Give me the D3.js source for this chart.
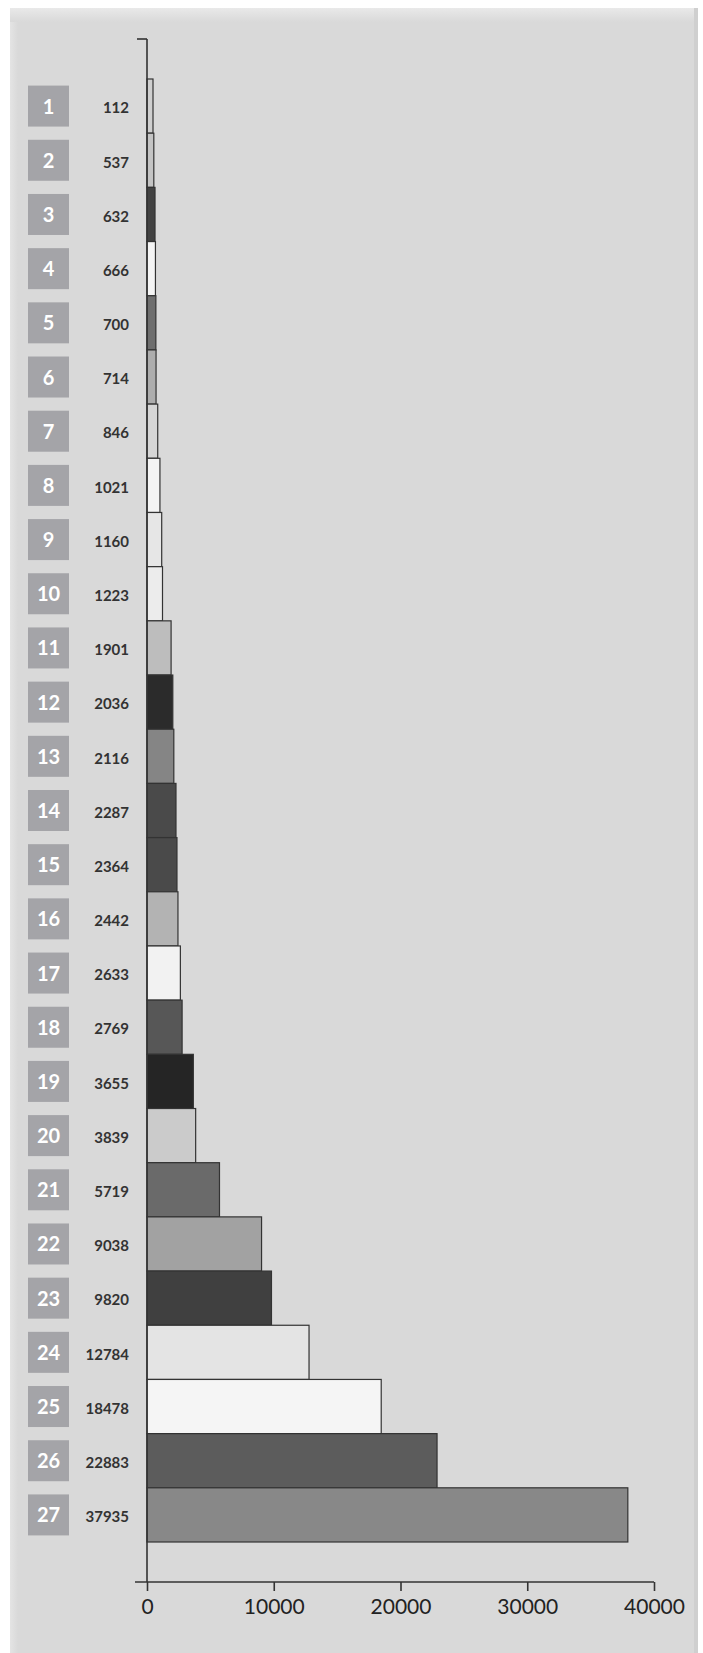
<!DOCTYPE html>
<html>
<head>
<meta charset="utf-8">
<script src="https://cdn.jsdelivr.net/npm/d3@7"></script>
<style>
  body { margin: 0; background: #fff; }
  svg { display: block; }
  .axis path, .axis line { stroke: #333; stroke-width: 1.6px; }
  .axis text { font-family: Lato, sans-serif; font-size: 21px; fill: #222; }
</style>
</head>
<body>
<svg width="703" height="1653"></svg>
<script>
'use strict';

// ranks shown in the grey boxes
var ranks = d3.range(1, 28).map(String);

// value of each bar (also printed next to it)
var values = [112, 537, 632, 666, 700, 714, 846, 1021, 1160, 1223, 1901, 2036, 2116, 2287,
  2364, 2442, 2633, 2769, 3655, 3839, 5719, 9038, 9820, 12784, 18478, 22883, 37935];

// fill of each bar
var fills = ['#cfcfcf', '#c4c4c4', '#424242', '#f4f4f4', '#6e6e6e', '#adadad', '#d6d6d6',
  '#f4f4f4', '#e6e6e6', '#ececec', '#bdbdbd', '#2b2b2b', '#858585', '#4a4a4a', '#4a4a4a',
  '#b3b3b3', '#f2f2f2', '#575757', '#252525', '#cbcbcb', '#6a6a6a', '#a2a2a2', '#404040',
  '#e4e4e4', '#f5f5f5', '#5c5c5c', '#888888'];

var xTicks = [0, 10000, 20000, 30000, 40000];

var svg = d3.select('svg');

// panel background with a soft lighter rim
var defs = svg.append('defs');
var gTop = defs.append('linearGradient').attr('id', 'rimTop').attr('x1', 0).attr('y1', 0).attr('x2', 0).attr('y2', 1);
gTop.append('stop').attr('offset', 0).attr('stop-color', '#e9e9e9');
gTop.append('stop').attr('offset', 1).attr('stop-color', '#d9d9d9');
var gLeft = defs.append('linearGradient').attr('id', 'rimLeft').attr('x1', 0).attr('y1', 0).attr('x2', 1).attr('y2', 0);
gLeft.append('stop').attr('offset', 0).attr('stop-color', '#e4e4e4');
gLeft.append('stop').attr('offset', 1).attr('stop-color', '#d9d9d9');

svg.append('rect').attr('x', 10).attr('y', 8).attr('width', 688).attr('height', 1645).attr('fill', '#d9d9d9');
svg.append('rect').attr('x', 10).attr('y', 8).attr('width', 8).attr('height', 1645).attr('fill', 'url(#rimLeft)');
svg.append('rect').attr('x', 10).attr('y', 8).attr('width', 688).attr('height', 14).attr('fill', 'url(#rimTop)');
svg.append('rect').attr('x', 694).attr('y', 8).attr('width', 4).attr('height', 1645).attr('fill', '#cfcfcf');

// scales
var x = d3.scaleLinear().domain([0, 40000]).range([147, 654]);
var y = d3.scaleBand().domain(ranks).range([79, 1542]).padding(0);
var axisY = 1582;

// bars (tiny values keep a sliver so they stay visible, as in the original)
svg.selectAll('.bar')
  .data(values)
  .enter()
  .append('rect')
  .attr('class', 'bar')
  .attr('x', x(0))
  .attr('y', function(d, i) { return y(ranks[i]); })
  .attr('width', function(d) { return Math.max(x(d) - x(0), 6); })
  .attr('height', y.bandwidth())
  .attr('fill', function(d, i) { return fills[i]; })
  .attr('stroke', '#333')
  .attr('stroke-width', 1.2);

// rank boxes
var boxes = svg.selectAll('.rank')
  .data(ranks)
  .enter()
  .append('g')
  .attr('class', 'rank')
  .attr('transform', function(d) { return 'translate(28,' + (y(d) + y.bandwidth() / 2 - 20.5) + ')'; });

boxes.append('rect')
  .attr('width', 41)
  .attr('height', 41)
  .attr('fill', '#a4a4a8');

boxes.append('text')
  .attr('x', 20.5)
  .attr('y', 21)
  .attr('dy', '0.35em')
  .attr('text-anchor', 'middle')
  .style('font-family', 'Lato, sans-serif')
  .style('font-weight', 'bold')
  .style('font-size', '20px')
  .style('fill', '#fff')
  .text(function(d) { return d; });

// value labels
svg.selectAll('.val')
  .data(values)
  .enter()
  .append('text')
  .attr('class', 'val')
  .attr('x', 129)
  .attr('y', function(d, i) { return y(ranks[i]) + y.bandwidth() / 2 + 2; })
  .attr('dy', '0.35em')
  .attr('text-anchor', 'end')
  .style('font-family', 'Lato, sans-serif')
  .style('font-weight', 'bold')
  .style('font-size', '15px')
  .style('fill', '#333')
  .text(function(d) { return d; });

// y axis line with its top tick
svg.append('line')
  .attr('x1', x(0)).attr('x2', x(0))
  .attr('y1', y.range()[0] - 40).attr('y2', axisY)
  .attr('stroke', '#333').attr('stroke-width', 1.6);
svg.append('line')
  .attr('x1', x(0) - 10).attr('x2', x(0))
  .attr('y1', y.range()[0] - 40).attr('y2', y.range()[0] - 40)
  .attr('stroke', '#333').attr('stroke-width', 1.6);

// x axis
var xAxis = svg.append('g')
  .attr('class', 'axis')
  .attr('transform', 'translate(0,' + axisY + ')')
  .call(d3.axisBottom(x).tickValues(xTicks).tickFormat(d3.format('d')).tickSizeInner(9).tickSizeOuter(0).tickPadding(8));

xAxis.select('.domain').attr('d', 'M' + (x(0) - 12) + ',0H' + x(40000));
</script>
</body>
</html>
